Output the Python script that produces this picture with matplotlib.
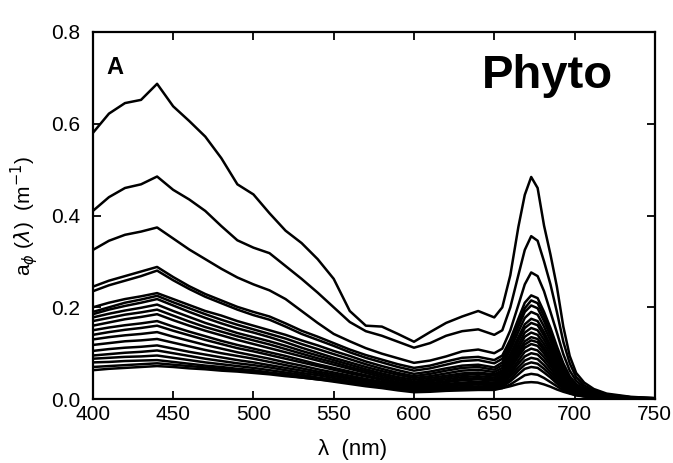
import matplotlib
matplotlib.use("Agg")
import matplotlib.pyplot as plt

plt.rcParams['font.family'] = ['Liberation Sans', 'DejaVu Sans']

# wavelength grid (nm), denser around the red chlorophyll peak
wl = [400, 410, 420, 430, 440, 450, 460, 470, 480, 490, 500, 510, 520, 530,
      540, 550, 560, 570, 580, 590, 600, 610, 620, 630, 640, 650, 655, 660,
      665, 669, 673, 677, 681, 685, 689, 693, 697, 701, 706, 712, 720, 735, 750]

# phytoplankton absorption spectra a_phi(lambda), m^-1
s01 = [.580, .622, .645, .652, .687, .638, .606, .572, .525, .468, .446, .405, .367, .340,
       .305, .262, .192, .160, .158, .142, .125, .146, .166, .180, .192, .178, .200, .270,
       .375, .445, .484, .460, .378, .315, .245, .158, .094, .057, .036, .022, .012, .005, .002]
s02 = [.410, .440, .460, .468, .485, .456, .435, .410, .377, .346, .330, .318, .290, .262,
       .232, .200, .168, .148, .138, .125, .112, .122, .138, .148, .152, .140, .150, .200,
       .270, .325, .355, .345, .300, .250, .190, .125, .078, .048, .030, .018, .010, .004, .002]
s03 = [.325, .345, .358, .365, .374, .350, .326, .305, .284, .265, .250, .237, .218, .192,
       .166, .142, .126, .111, .099, .089, .079, .084, .093, .104, .108, .100, .110, .150,
       .205, .250, .276, .268, .235, .190, .145, .098, .062, .040, .025, .015, .009, .004, .002]
s04 = [.245, .258, .268, .278, .288, .266, .246, .229, .215, .201, .190, .180, .165, .149,
       .136, .122, .108, .096, .086, .076, .068, .073, .082, .090, .092, .085, .095, .130,
       .175, .210, .226, .220, .190, .155, .115, .078, .050, .033, .021, .013, .008, .003, .001]
s05 = [.235, .248, .258, .268, .280, .259, .240, .223, .209, .195, .183, .173, .158, .142,
       .129, .116, .102, .090, .080, .070, .062, .067, .075, .083, .085, .078, .088, .122,
       .165, .198, .215, .209, .180, .146, .108, .073, .047, .031, .020, .012, .007, .003, .001]
s06 = [.200, .210, .218, .224, .231, .218, .205, .192, .182, .170, .160, .150, .140, .128,
       .117, .105, .094, .082, .072, .063, .055, .060, .067, .073, .075, .069, .080, .115,
       .158, .190, .204, .198, .170, .137, .102, .068, .044, .029, .018, .011, .007, .003, .001]
s07 = [.190, .200, .210, .217, .225, .211, .198, .185, .173, .162, .152, .142, .132, .120,
       .109, .098, .087, .076, .066, .057, .050, .055, .062, .068, .070, .064, .074, .107,
       .147, .177, .190, .184, .158, .127, .094, .063, .041, .027, .017, .010, .006, .002, .001]
s08 = [.185, .195, .203, .210, .218, .204, .190, .177, .165, .154, .145, .135, .124, .112,
       .101, .090, .080, .070, .061, .053, .046, .050, .056, .062, .064, .059, .068, .098,
       .135, .163, .175, .170, .146, .117, .087, .058, .038, .025, .016, .010, .006, .002, .001]
s09 = [.178, .186, .193, .199, .206, .192, .179, .166, .155, .144, .135, .126, .116, .105,
       .095, .085, .075, .065, .056, .048, .042, .046, .051, .056, .058, .054, .063, .092,
       .128, .155, .166, .161, .138, .111, .082, .055, .036, .024, .015, .009, .005, .002, .001]
s10 = [.170, .177, .184, .189, .195, .182, .169, .157, .147, .137, .128, .119, .109, .099,
       .089, .080, .070, .061, .052, .044, .038, .042, .047, .052, .055, .051, .059, .086,
       .119, .145, .155, .150, .129, .104, .077, .051, .033, .022, .014, .008, .005, .002, .001]
s11 = [.160, .167, .174, .179, .185, .172, .160, .149, .139, .129, .120, .111, .102, .093,
       .084, .075, .066, .057, .048, .041, .035, .039, .043, .048, .050, .047, .055, .080,
       .111, .136, .145, .140, .120, .097, .072, .048, .031, .021, .013, .008, .005, .002, .001]
s12 = [.150, .156, .161, .165, .170, .158, .147, .137, .127, .118, .110, .102, .094, .085,
       .076, .068, .060, .052, .044, .037, .032, .035, .039, .044, .046, .043, .051, .075,
       .104, .126, .135, .131, .112, .090, .067, .045, .029, .019, .012, .007, .004, .002, .001]
s13 = [.140, .146, .151, .155, .160, .149, .139, .129, .120, .111, .104, .096, .088, .080,
       .072, .064, .056, .049, .042, .035, .030, .033, .037, .041, .043, .040, .048, .071,
       .098, .119, .128, .124, .106, .085, .063, .042, .027, .018, .011, .007, .004, .002, .001]
s14 = [.130, .135, .139, .142, .146, .136, .127, .118, .110, .102, .095, .088, .080, .073,
       .065, .058, .051, .044, .038, .032, .027, .030, .033, .036, .038, .036, .044, .066,
       .092, .112, .120, .116, .099, .079, .058, .039, .025, .016, .010, .006, .004, .002, .001]
s15 = [.118, .122, .126, .128, .131, .123, .115, .107, .100, .094, .088, .081, .074, .067,
       .060, .054, .047, .041, .035, .030, .025, .027, .030, .033, .035, .033, .040, .060,
       .084, .103, .110, .106, .091, .073, .054, .036, .023, .015, .010, .006, .003, .001, .001]
s16 = [.105, .109, .112, .114, .117, .110, .103, .097, .091, .085, .080, .074, .068, .062,
       .056, .050, .044, .038, .032, .027, .022, .024, .027, .030, .032, .030, .037, .055,
       .077, .093, .100, .097, .083, .066, .049, .033, .021, .014, .009, .005, .003, .001, .001]
s17 = [.095, .098, .101, .103, .106, .100, .094, .088, .083, .078, .074, .069, .063, .057,
       .052, .046, .040, .035, .029, .024, .020, .022, .024, .026, .028, .027, .033, .050,
       .069, .084, .090, .087, .074, .059, .044, .029, .019, .012, .008, .005, .003, .001, .001]
s18 = [.088, .090, .092, .093, .095, .090, .085, .080, .076, .072, .068, .063, .058, .053,
       .047, .042, .037, .032, .027, .022, .018, .020, .022, .024, .025, .024, .030, .044,
       .062, .075, .080, .077, .066, .053, .039, .026, .017, .011, .007, .004, .002, .001, .001]
s19 = [.080, .081, .083, .084, .085, .081, .077, .073, .070, .066, .063, .058, .054, .049,
       .045, .040, .035, .030, .026, .021, .017, .018, .020, .021, .022, .022, .027, .039,
       .054, .066, .070, .068, .058, .047, .034, .023, .015, .010, .006, .004, .002, .001, .001]
s20 = [.070, .072, .074, .076, .078, .075, .072, .069, .066, .063, .060, .056, .052, .047,
       .043, .038, .033, .028, .024, .019, .015, .016, .018, .019, .020, .020, .024, .032,
       .043, .052, .055, .053, .046, .037, .028, .019, .013, .009, .006, .004, .002, .001, .001]
s21 = [.063, .066, .068, .070, .072, .070, .067, .065, .062, .060, .057, .054, .050, .047,
       .043, .040, .036, .032, .029, .025, .022, .022, .023, .024, .024, .022, .024, .028,
       .033, .036, .037, .036, .032, .027, .021, .016, .012, .008, .006, .004, .002, .001, .001]

spectra = [s01, s02, s03, s04, s05, s06, s07, s08, s09, s10, s11,
           s12, s13, s14, s15, s16, s17, s18, s19, s20, s21]

fig = plt.figure(figsize=(6.73, 4.63), dpi=100)
ax = fig.add_axes([0.138, 0.138, 0.835, 0.793])

for s in spectra:
    ax.plot(wl, s, color='black', lw=1.8, solid_joinstyle='round')

ax.set_xlim(400, 750)
ax.set_ylim(0, 0.8)
ax.set_xticks(range(400, 751, 50))
ax.set_yticks([0.0, 0.2, 0.4, 0.6, 0.8])
ax.set_yticklabels(['0.0', '0.2', '0.4', '0.6', '0.8'])
ax.tick_params(direction='in', top=True, right=True, length=6, width=1.3,
               labelsize=15)
ax.tick_params(axis='x', pad=4)
ax.tick_params(axis='y', pad=9)
for sp in ax.spines.values():
    sp.set_linewidth(1.6)

ax.text(0.024, 0.935, 'A', transform=ax.transAxes, fontsize=17,
        fontweight='bold', va='top', ha='left')
ax.text(0.692, 0.847, 'Phyto', transform=ax.transAxes, fontsize=34,
        fontweight='bold', va='baseline', ha='left')

ax.set_ylabel(r'a$_{\phi}$ ($\lambda$)  (m$^{-1}$)', fontsize=15, labelpad=8)
fig.text(353 / 673, 1 - 450 / 463, '\u03bb  (nm)', fontsize=16,
         ha='center', va='center')

fig.savefig('out.png', dpi=100)
